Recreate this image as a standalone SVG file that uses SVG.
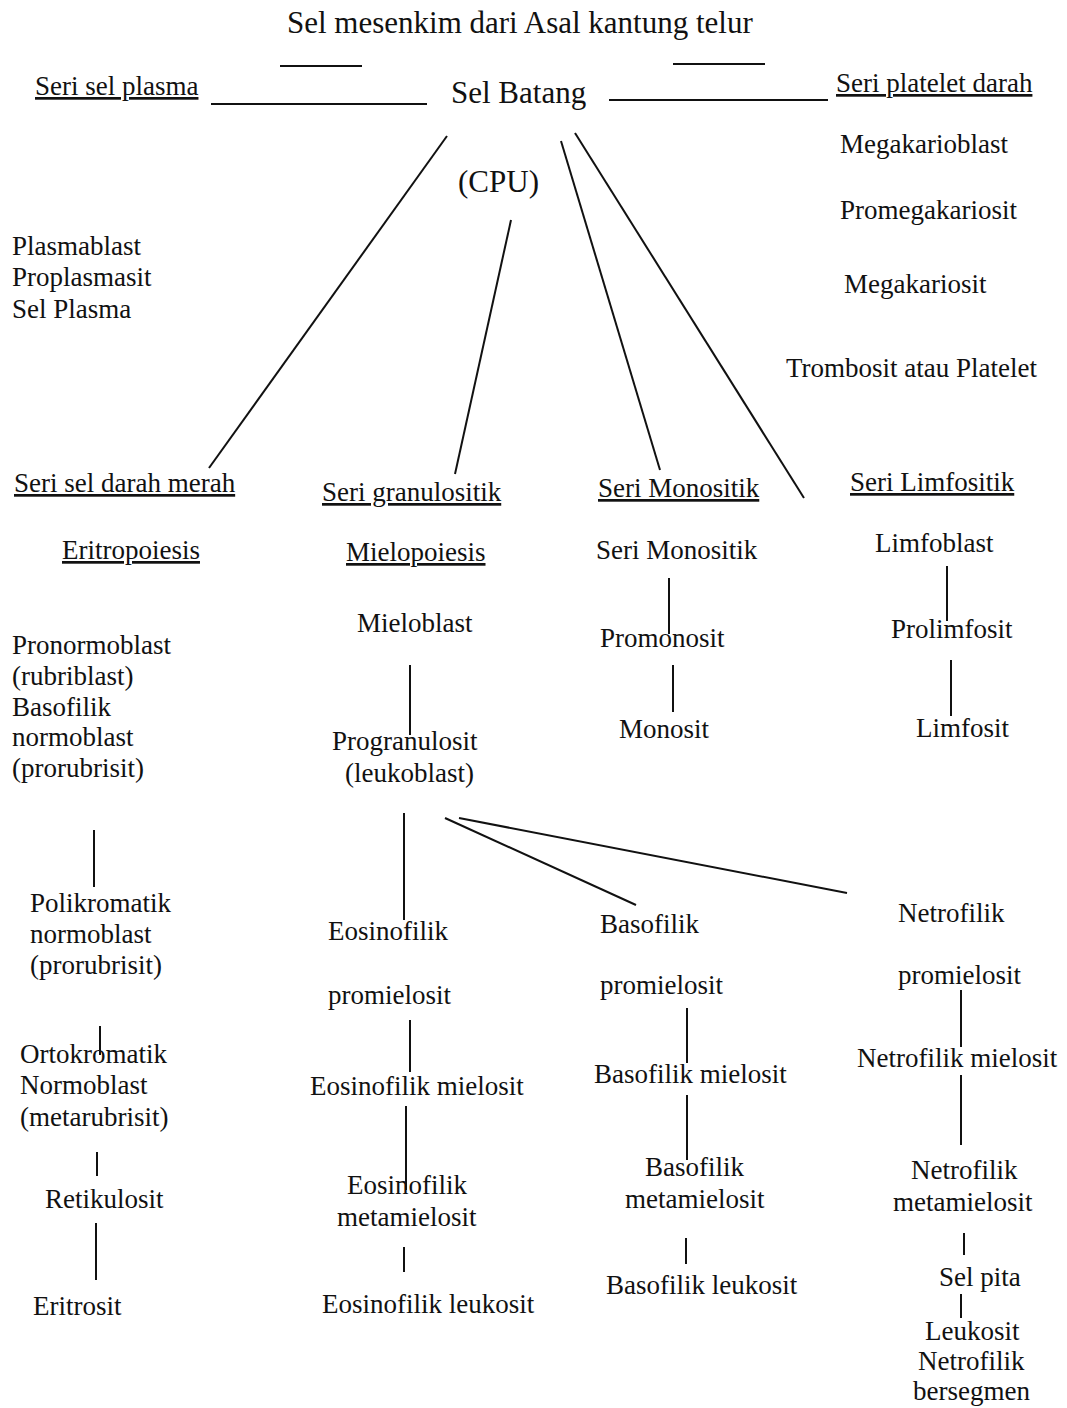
<svg xmlns="http://www.w3.org/2000/svg" width="1067" height="1408" viewBox="0 0 1067 1408">
<style>
text{font-family:"Liberation Serif","Times New Roman",serif;font-size:27px;fill:#111}
.big{font-size:31px}
.u{text-decoration:underline}
line{stroke:#111;stroke-width:2;stroke-linecap:butt}
</style>
<rect width="1067" height="1408" fill="#fff"/>
<g id="connectors">
<line x1="280" y1="66" x2="362" y2="66"/>
<line x1="673" y1="64" x2="765" y2="64"/>
<line x1="211" y1="104" x2="427" y2="104"/>
<line x1="609" y1="100" x2="828" y2="100"/>
<line x1="447" y1="136" x2="209" y2="468"/>
<line x1="511" y1="220" x2="455" y2="474"/>
<line x1="561" y1="141" x2="660" y2="470"/>
<line x1="575" y1="133" x2="804" y2="498"/>
<line x1="669" y1="578" x2="669" y2="634"/>
<line x1="673" y1="665" x2="673" y2="712"/>
<line x1="947" y1="566" x2="947" y2="621"/>
<line x1="951" y1="660" x2="951" y2="716"/>
<line x1="410" y1="665" x2="410" y2="735"/>
<line x1="94" y1="830" x2="94" y2="887"/>
<line x1="100" y1="1026" x2="100" y2="1055"/>
<line x1="97" y1="1152" x2="97" y2="1176"/>
<line x1="96" y1="1223" x2="96" y2="1280"/>
<line x1="404" y1="813" x2="404" y2="920"/>
<line x1="445" y1="818" x2="636" y2="905"/>
<line x1="459" y1="818" x2="847" y2="893"/>
<line x1="410" y1="1020" x2="410" y2="1072"/>
<line x1="406" y1="1106" x2="406" y2="1190"/>
<line x1="404" y1="1247" x2="404" y2="1272"/>
<line x1="687" y1="1008" x2="687" y2="1063"/>
<line x1="687" y1="1095" x2="687" y2="1160"/>
<line x1="686" y1="1238" x2="686" y2="1264"/>
<line x1="961" y1="990" x2="961" y2="1047"/>
<line x1="961" y1="1075" x2="961" y2="1145"/>
<line x1="964" y1="1233" x2="964" y2="1255"/>
<line x1="961" y1="1294" x2="961" y2="1318"/>
</g>
<g id="title"><text class="big" x="287" y="33">Sel mesenkim dari Asal kantung telur</text></g>
<g id="sel-batang"><text class="big" x="451" y="103">Sel Batang</text></g>
<g id="cpu"><text class="big" x="458" y="192">(CPU)</text></g>
<g id="seri-plasma"><text class="u" x="35" y="95">Seri sel plasma</text></g>
<g id="plasma-list">
<text x="12" y="255">Plasmablast</text>
<text x="12" y="286">Proplasmasit</text>
<text x="12" y="318">Sel Plasma</text>
</g>
<g id="seri-platelet"><text class="u" x="836" y="92">Seri platelet darah</text></g>
<g id="megakarioblast"><text x="840" y="153">Megakarioblast</text></g>
<g id="promegakariosit"><text x="840" y="219">Promegakariosit</text></g>
<g id="megakariosit"><text x="844" y="293">Megakariosit</text></g>
<g id="trombosit"><text x="786" y="377">Trombosit atau Platelet</text></g>
<g id="seri-merah"><text class="u" x="14" y="492">Seri sel darah merah</text></g>
<g id="seri-granulositik"><text class="u" x="322" y="501">Seri granulositik</text></g>
<g id="seri-monositik"><text class="u" x="598" y="497">Seri Monositik</text></g>
<g id="seri-limfositik"><text class="u" x="850" y="491">Seri Limfositik</text></g>
<g id="eritropoiesis"><text class="u" x="62" y="559">Eritropoiesis</text></g>
<g id="mielopoiesis"><text class="u" x="346" y="561">Mielopoiesis</text></g>
<g id="monositik"><text x="596" y="559">Seri Monositik</text></g>
<g id="limfoblast"><text x="875" y="552">Limfoblast</text></g>
<g id="promonosit"><text x="600" y="647">Promonosit</text></g>
<g id="monosit"><text x="619" y="738">Monosit</text></g>
<g id="prolimfosit"><text x="891" y="638">Prolimfosit</text></g>
<g id="limfosit"><text x="916" y="737">Limfosit</text></g>
<g id="mieloblast"><text x="357" y="632">Mieloblast</text></g>
<g id="progranulosit">
<text x="332" y="750">Progranulosit</text>
<text x="345" y="782">(leukoblast)</text>
</g>
<g id="pronormoblast">
<text x="12" y="654">Pronormoblast</text>
<text x="12" y="685">(rubriblast)</text>
<text x="12" y="716">Basofilik</text>
<text x="12" y="746">normoblast</text>
<text x="12" y="777">(prorubrisit)</text>
</g>
<g id="polikromatik">
<text x="30" y="912">Polikromatik</text>
<text x="30" y="943">normoblast</text>
<text x="30" y="974">(prorubrisit)</text>
</g>
<g id="ortokromatik">
<text x="20" y="1063">Ortokromatik</text>
<text x="20" y="1094">Normoblast</text>
<text x="20" y="1126">(metarubrisit)</text>
</g>
<g id="retikulosit"><text x="45" y="1208">Retikulosit</text></g>
<g id="eritrosit"><text x="33" y="1315">Eritrosit</text></g>
<g id="eos-promielosit">
<text x="328" y="940">Eosinofilik</text>
<text x="328" y="1004">promielosit</text>
</g>
<g id="eos-mielosit"><text x="310" y="1095">Eosinofilik mielosit</text></g>
<g id="eos-metamielosit">
<text x="347" y="1194">Eosinofilik</text>
<text x="337" y="1226">metamielosit</text>
</g>
<g id="eos-leukosit"><text x="322" y="1313">Eosinofilik leukosit</text></g>
<g id="baso-promielosit">
<text x="600" y="933">Basofilik</text>
<text x="600" y="994">promielosit</text>
</g>
<g id="baso-mielosit"><text x="594" y="1083">Basofilik mielosit</text></g>
<g id="baso-metamielosit">
<text x="645" y="1176">Basofilik</text>
<text x="625" y="1208">metamielosit</text>
</g>
<g id="baso-leukosit"><text x="606" y="1294">Basofilik leukosit</text></g>
<g id="netro-promielosit">
<text x="898" y="922">Netrofilik</text>
<text x="898" y="984">promielosit</text>
</g>
<g id="netro-mielosit"><text x="857" y="1067">Netrofilik mielosit</text></g>
<g id="netro-metamielosit">
<text x="911" y="1179">Netrofilik</text>
<text x="893" y="1211">metamielosit</text>
</g>
<g id="sel-pita"><text x="939" y="1286">Sel pita</text></g>
<g id="leukosit-netrofilik">
<text x="925" y="1340">Leukosit</text>
<text x="918" y="1370">Netrofilik</text>
<text x="913" y="1400">bersegmen</text>
</g>
</svg>
